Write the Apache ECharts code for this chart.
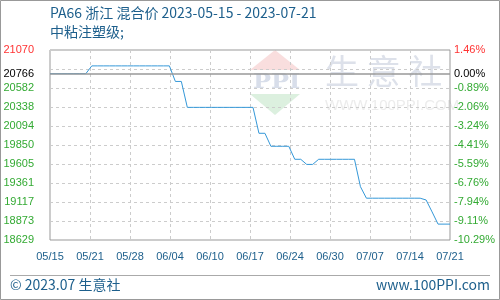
<!DOCTYPE html>
<html><head><meta charset="utf-8">
<script src="https://cdn.jsdelivr.net/npm/echarts@6/dist/echarts.min.js"></script>
<style>html,body{margin:0;padding:0;background:#fff}#c{width:500px;height:300px}</style>
</head><body><div id="c"></div>
<script>
const titleLine1 = 'PA66 浙江 混合价 2023-05-15 - 2023-07-21';
const titleLine2 = '中粘注塑级;';
const dates = ['05/15','05/16','05/17','05/18','05/19','05/20','05/21','05/22','05/23','05/24','05/25','05/26','05/27','05/28','05/29','05/30','05/31',
'06/01','06/02','06/03','06/04','06/05','06/06','06/07','06/08','06/09','06/10','06/11','06/12','06/13','06/14','06/15','06/16','06/17','06/18','06/19','06/20','06/21','06/22','06/23','06/24','06/25','06/26','06/27','06/28','06/29','06/30',
'07/01','07/02','07/03','07/04','07/05','07/06','07/07','07/08','07/09','07/10','07/11','07/12','07/13','07/14','07/15','07/16','07/17','07/18','07/19','07/20','07/21'];
const prices = [20766,20766,20766,20766,20766,20766,20766,
20866,20866,20866,20866,20866,20866,20866,20866,20866,20866,20866,20866,20866,20866,
20666,20666,
20333,20333,20333,20333,20333,20333,20333,20333,20333,20333,20333,20333,
20000,20000,
19833,19833,19833,19833,
19666,19666,
19600,19600,
19666,19666,19666,19666,19666,19666,19666,
19314,
19166,19166,19166,19166,19166,19166,19166,19166,19166,19166,
19143,18990,
18833,18833,18833];
const baseValue = 20766;
const yMin = 18629, yMax = 21070;
const gridValues = [21070,20826,20582,20338,20094,19850,19605,19361,19117,18873,18629];
const leftLabels = [21070,20766,20582,20338,20094,19850,19605,19361,19117,18873,18629];
const rightLabels = ['1.46%','0.00%','-0.89%','-2.06%','-3.24%','-4.41%','-5.59%','-6.76%','-7.94%','-9.11%','-10.29%'];
const xSplits = 10;

const labelColor = v => v > baseValue + 1 ? '#ff3333' : (Math.abs(v - baseValue) < 1 ? '#000000' : '#33aa33');
const nearestIdx = v => { let b = 0; leftLabels.forEach((l, i) => { if (Math.abs(l - v) < Math.abs(leftLabels[b] - v)) b = i; }); return b; };

const chart = echarts.init(document.getElementById('c'), null, {renderer: 'canvas'});
const lastIdx = dates.length - 1;
chart.setOption({
  animation: false,
  backgroundColor: '#fff',
  grid: {left: 50, right: 50, top: 50, bottom: 60, show: true, borderColor: '#999', borderWidth: 1, backgroundColor: 'transparent'},
  graphic: [
    {type: 'rect', shape: {x: 0.5, y: 0.5, width: 499, height: 299}, style: {fill: 'none', stroke: '#999', lineWidth: 1}, z: 100},
    {type: 'text', left: 50, top: 6, style: {text: titleLine1, font: '14px "Noto Sans CJK SC", sans-serif', fill: '#1d5f8c'}},
    {type: 'text', left: 50, top: 25, style: {text: titleLine2, font: '14px "Noto Sans CJK SC", sans-serif', fill: '#1d5f8c'}},
    {type: 'line', shape: {x1: 10, y1: 275.5, x2: 490, y2: 275.5}, style: {stroke: '#aaa', lineWidth: 1}},
    {type: 'text', left: 10, top: 278, style: {text: '© 2023.07 生意社', font: '14px "Noto Sans CJK SC", sans-serif', fill: '#1d5f8c'}},
    {type: 'text', right: 10, top: 278, style: {text: 'www.100PPI.com', font: '14px "Noto Sans CJK SC", sans-serif', fill: '#1d5f8c'}},
    {type: 'polygon', shape: {points: [[275, 50], [300, 70], [250, 70]]}, style: {fill: '#f9dede'}, z: -1, silent: true},
    {type: 'text', x: 253, y: 73, scaleX: 1.2, originX: 0, originY: 0, style: {text: 'PPI', font: 'bold 20px "DejaVu Serif", serif', fill: '#d8deea'}, z: -1, silent: true},
    {type: 'polygon', shape: {points: [[250, 94], [300, 94], [275, 115]]}, style: {fill: '#dcf0df'}, z: -1, silent: true},
    {type: 'text', x: 325, y: 54, style: {text: '生 意 社', font: '34px "Noto Sans CJK SC", sans-serif', fill: '#dde1ea'}, z: -1, silent: true},
    {type: 'text', x: 325, y: 98, style: {text: 'WWW.100PPI.COM', font: '15px "Liberation Sans", sans-serif', fill: '#ececec'}, z: -1, silent: true}
  ],
  xAxis: {
    type: 'value', min: 0, max: lastIdx, interval: lastIdx / xSplits,
    axisLine: {show: false}, axisTick: {show: false},
    splitLine: {show: true, lineStyle: {color: '#ccc', type: [3, 3], width: 1}},
    axisLabel: {
      showMinLabel: true, showMaxLabel: true, margin: 11,
      color: '#1d5f8c', fontSize: 11, fontFamily: '"Liberation Sans", sans-serif',
      formatter: v => dates[Math.floor(v + 1e-6)]
    }
  },
  yAxis: [
    {
      type: 'value', min: yMin, max: yMax, position: 'left',
      axisLine: {show: false},
      axisTick: {show: false, customValues: gridValues},
      splitLine: {show: true, lineStyle: {color: '#ccc', type: [3, 3], width: 1}},
      axisLabel: {
        customValues: leftLabels, margin: 16, fontSize: 11, fontFamily: '"Liberation Sans", sans-serif',
        formatter: v => String(leftLabels[nearestIdx(v)]),
        color: v => labelColor(v)
      }
    },
    {
      type: 'value', min: yMin, max: yMax, position: 'right',
      axisLine: {show: false},
      axisTick: {show: false, customValues: gridValues},
      splitLine: {show: false},
      axisLabel: {
        customValues: leftLabels, margin: 4, fontSize: 11, fontFamily: '"Liberation Sans", sans-serif',
        formatter: v => rightLabels[nearestIdx(v)],
        color: v => labelColor(v)
      }
    }
  ],
  series: [{
    type: 'line', data: prices.map((p, i) => [i, p]), showSymbol: false, symbol: 'none',
    lineStyle: {color: '#3598d8', width: 1}, itemStyle: {color: '#3598d8'},
    markLine: {
      silent: true, symbol: 'none', label: {show: false},
      lineStyle: {color: '#999', type: 'solid', width: 1.5},
      data: [{yAxis: baseValue}]
    }
  }]
});
</script></body></html>
